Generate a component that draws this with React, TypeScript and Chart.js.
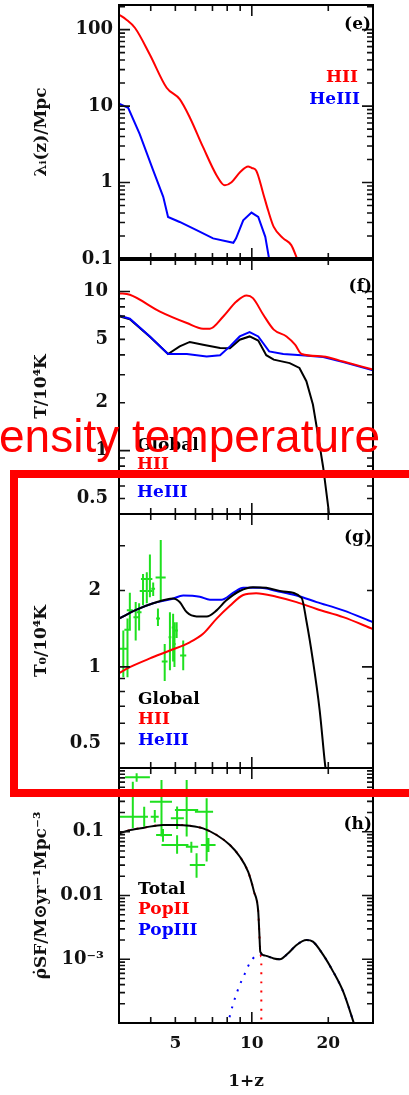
import React, { useEffect, useRef } from 'react';
import { Chart, registerables } from 'chart.js';

Chart.register(...registerables);

// ---------- shared x axis (1+z) ----------
const X_MIN = 3;
const X_MAX = 30;
const X_TICK_LABELS = [5, 10, 20];
const X_TICK_MARKS = [4, 5, 6, 7, 8, 9, 10, 20];

// ---------- panel (e): lambda_I(z)/Mpc ----------
const eZ_HII = [3.0, 3.2, 3.47, 3.97, 4.62, 5.2, 5.7, 6.43, 7.27, 7.83, 8.32, 9.0, 9.67, 10.0, 10.4, 11.1, 11.6, 12.2, 13.3, 14.3, 15.1];
const eHII = [157, 136, 105, 47, 17.4, 12.3, 7.1, 2.9, 1.24, 0.92, 1.01, 1.37, 1.62, 1.55, 1.44, 0.71, 0.43, 0.263, 0.186, 0.152, 0.1];
const eZ_HeIII = [3.0, 3.26, 3.62, 4.09, 4.48, 4.68, 5.2, 6.06, 7.04, 8.46, 8.67, 9.25, 9.97, 10.6, 11.3, 11.7];
const eHeIII = [10.8, 9.5, 4.3, 1.44, 0.65, 0.355, 0.305, 0.238, 0.186, 0.163, 0.186, 0.32, 0.405, 0.355, 0.195, 0.1];
const eTicks = [0.1, 1, 10, 100];

// ---------- panel (f): T/10^4 K ----------
const fZ_HII = [3.0, 3.31, 4.35, 5.55, 6.43, 6.84, 7.72, 8.7, 9.54, 10.1, 11.1, 12.2, 13.7, 14.8, 15.7, 19.1, 22.9, 30];
const fHII = [9.76, 9.53, 7.48, 6.34, 5.84, 5.84, 6.97, 8.65, 9.43, 9.08, 7.14, 5.76, 5.22, 4.63, 4.05, 3.91, 3.63, 3.23];
const fZ_HeIII = [3.0, 3.31, 3.97, 4.68, 5.55, 6.64, 7.5, 8.2, 8.96, 9.8, 10.6, 11.7, 13.3, 15.7, 19.1, 22.9, 30];
const fHeIII = [7.06, 6.74, 5.22, 4.05, 4.05, 3.91, 3.98, 4.52, 5.22, 5.56, 5.22, 4.2, 4.05, 3.98, 3.88, 3.6, 3.2];
const fZ_Glob = [3.0, 3.31, 3.97, 4.68, 5.2, 5.7, 6.43, 7.5, 8.2, 8.96, 9.8, 10.6, 11.4, 12.2, 14.1, 15.4, 16.4, 17.4, 18.2, 19.1, 20.0, 20.5];
const fGlob = [7.0, 6.7, 5.2, 4.05, 4.52, 4.82, 4.63, 4.42, 4.4, 4.98, 5.22, 4.92, 3.98, 3.73, 3.55, 3.31, 2.73, 1.95, 1.27, 0.784, 0.44, 0.3];
const fTicks = [0.5, 1, 2, 5, 10];

// ---------- panel (g): T0/10^4 K ----------
const gZ_HeIII = [3.0, 3.52, 4.09, 4.84, 5.37, 6.24, 6.84, 7.6, 8.46, 9.25, 10.8, 12.5, 15, 18, 22.9, 30];
const gHeIII = [1.55, 1.68, 1.78, 1.85, 1.91, 1.89, 1.84, 1.84, 1.96, 2.05, 2.05, 1.99, 1.91, 1.80, 1.67, 1.50];
const gZ_HII = [3.0, 3.31, 3.97, 4.76, 5.7, 6.43, 7.27, 8.2, 9.25, 10.4, 12.5, 15, 18, 22.9, 30];
const gHII = [0.946, 0.998, 1.08, 1.16, 1.25, 1.35, 1.55, 1.74, 1.92, 1.95, 1.89, 1.80, 1.69, 1.57, 1.41];
const gZ_Glob = [3.0, 3.52, 4.09, 4.9, 5.2, 5.55, 6.06, 6.64, 7.27, 7.9, 8.96, 10.1, 11.4, 13.3, 15.7, 16.4, 17.4, 18.5, 19.4, 19.8];
const gGlob = [1.55, 1.68, 1.78, 1.86, 1.80, 1.64, 1.58, 1.58, 1.67, 1.82, 1.99, 2.06, 2.05, 1.98, 1.87, 1.52, 1.06, 0.675, 0.418, 0.35];
const gObsZ = [3.12, 3.24, 3.31, 3.49, 3.60, 3.73, 3.86, 3.97, 4.09, 4.27, 4.38, 4.54, 4.76, 4.90, 4.96, 5.06, 5.37];
const gObsZlo = [3.02, 3.15, 3.22, 3.42, 3.53, 3.62, 3.66, 3.90, 4.02, 4.20, 4.18, 4.42, 4.70, 4.84, 4.90, 5.00, 5.22];
const gObsZhi = [3.22, 3.34, 3.40, 3.57, 3.68, 3.86, 4.06, 4.05, 4.16, 4.35, 4.58, 4.66, 4.82, 4.96, 5.02, 5.12, 5.52];
const gObsT = [1.18, 1.40, 1.67, 1.57, 1.64, 1.99, 2.22, 1.99, 2.03, 1.55, 2.25, 1.05, 1.31, 1.43, 1.23, 1.39, 1.11];
const gObsTlo = [0.91, 0.91, 1.39, 1.27, 1.39, 1.75, 1.78, 1.88, 1.90, 1.45, 1.80, 0.88, 0.97, 1.05, 1.00, 1.30, 0.97];
const gObsThi = [1.39, 1.55, 1.96, 1.80, 1.78, 2.32, 2.36, 2.77, 2.15, 1.70, 3.16, 1.23, 1.64, 1.62, 1.50, 1.50, 1.27];
const gTicks = [0.5, 1, 2];

// ---------- panel (h): star formation rate density ----------
const hZ_Tot = [3.0, 3.31, 3.77, 4.47, 5.08, 5.7, 6.43, 7.27, 8.2, 8.96, 9.67, 10.2, 10.6, 10.7, 10.8, 11.3, 12.2, 12.9, 13.9, 15.0, 16.4, 17.4, 19.1, 20.9, 22.9, 25.1, 25.4];
const hTot = [0.0945, 0.106, 0.116, 0.128, 0.128, 0.124, 0.113, 0.089, 0.062, 0.041, 0.0236, 0.0115, 0.0056, 0.0027, 0.00131, 0.00114, 0.00103, 0.001, 0.00124, 0.00167, 0.0020, 0.00189, 0.00117, 0.00064, 0.00031, 0.000105, 0.00009];
const hZ_PopII = [3.0, 3.31, 3.77, 4.47, 5.08, 5.7, 6.43, 7.27, 8.2, 8.96, 9.67, 10.2, 10.6, 10.7, 10.8, 10.9, 10.9];
const hPopII = [0.0945, 0.106, 0.116, 0.128, 0.128, 0.124, 0.113, 0.089, 0.062, 0.041, 0.0236, 0.0115, 0.0056, 0.0027, 0.0013, 0.0011, 0.00008];
const hZ_PopIII = [8.0, 8.46, 8.96, 9.4, 9.8, 10.4, 10.9, 11.3, 12.2, 12.9, 13.9, 15.0, 16.4, 17.4, 19.1, 20.9, 22.9, 25.1, 25.4];
const hPopIII = [0.00009, 0.000204, 0.000394, 0.0006, 0.00086, 0.00114, 0.00118, 0.00114, 0.00103, 0.001, 0.00124, 0.00167, 0.0020, 0.00189, 0.00117, 0.00064, 0.00031, 0.000105, 0.00009];
const hObsZ = [3.52, 3.40, 3.77, 4.15, 4.41, 4.47, 5.08, 5.54, 5.08, 5.78, 6.06, 6.64, 6.75];
const hObsZlo = [3.17, 3.0, 3.65, 4.0, 3.97, 4.2, 4.8, 4.98, 4.41, 5.5, 5.7, 5.97, 6.3];
const hObsZhi = [3.97, 3.9, 3.9, 4.3, 4.85, 4.85, 5.4, 6.15, 5.63, 6.15, 6.55, 7.04, 7.2];
const hObsR = [0.715, 0.172, 0.172, 0.172, 0.296, 0.089, 0.163, 0.219, 0.062, 0.058, 0.030, 0.206, 0.062];
const hObsRlo = [0.61, 0.114, 0.12, 0.14, 0.084, 0.07, 0.11, 0.084, 0.045, 0.047, 0.019, 0.034, 0.048];
const hObsRhi = [0.83, 0.61, 0.247, 0.22, 0.65, 0.11, 0.25, 0.65, 0.088, 0.07, 0.046, 0.335, 0.08];
const hTicks = [0.001, 0.01, 0.1];

// ---------- styling ----------
const RED = '#ff0000';
const BLUE = '#0000ff';
const BLACK = '#000000';
const GREEN = '#1fe01f';
const SERIF = '"DejaVu Serif", "Liberation Serif", serif';

type Series = { z: number[]; v: number[]; color: string; dash?: number[]; width?: number; smooth?: boolean };
type Label = { text: string; color: string; side: 'left' | 'right'; dx: number; dy: number };
type Obs = { z: number[]; zlo: number[]; zhi: number[]; v: number[]; vlo: number[]; vhi: number[] };
type Panel = {
  id: string; top: number; height: number; padTop: number; padBottom: number; xAxisH: number; showX: boolean;
  yMin: number; yMax: number; yTicks: number[]; yTickPad: number; yTitle: string; series: Series[]; labels: Label[];
  obs?: Obs; bottomBorder?: number;
};

const fmtY = (v: number) => (v === 0.001 ? '10\u207B\u00B3' : String(v));

const PANELS: Panel[] = [
  {
    id: 'e', top: -5, height: 274, padTop: 10, padBottom: 10, xAxisH: 0, showX: false,
    yMin: 0.1, yMax: 210, yTicks: eTicks, yTickPad: 6, yTitle: '\u03BB\u1D62(z)/Mpc', bottomBorder: 4,
    series: [
      { z: eZ_HII, v: eHII, color: RED, smooth: true },
      { z: eZ_HeIII, v: eHeIII, color: BLUE },
    ],
    labels: [
      { text: '(e)', color: BLACK, side: 'right', dx: 2, dy: 20 },
      { text: 'HII', color: RED, side: 'right', dx: 15, dy: 73 },
      { text: 'HeIII', color: BLUE, side: 'right', dx: 13, dy: 95 },
    ],
  },
  {
    id: 'f', top: 249, height: 275, padTop: 10, padBottom: 10, xAxisH: 0, showX: false,
    yMin: 0.4, yMax: 16, yTicks: fTicks, yTickPad: 11, yTitle: 'T/10\u2074K',
    series: [
      { z: fZ_HII, v: fHII, color: RED, smooth: true },
      { z: fZ_HeIII, v: fHeIII, color: BLUE },
      { z: fZ_Glob, v: fGlob, color: BLACK },
    ],
    labels: [
      { text: '(f)', color: BLACK, side: 'right', dx: 1, dy: 28 },
      { text: 'Global', color: BLACK, side: 'left', dx: 18, dy: 187 },
      { text: 'HII', color: RED, side: 'left', dx: 18, dy: 206 },
      { text: 'HeIII', color: BLUE, side: 'left', dx: 18, dy: 234 },
    ],
  },
  {
    id: 'g', top: 504, height: 274, padTop: 10, padBottom: 10, xAxisH: 0, showX: false,
    yMin: 0.4, yMax: 4, yTicks: gTicks, yTickPad: 18, yTitle: 'T\u2080/10\u2074K',
    series: [
      { z: gZ_Glob, v: gGlob, color: BLACK, smooth: true },
      { z: gZ_HII, v: gHII, color: RED, smooth: true },
      { z: gZ_HeIII, v: gHeIII, color: BLUE, smooth: true },
    ],
    obs: { z: gObsZ, zlo: gObsZlo, zhi: gObsZhi, v: gObsT, vlo: gObsTlo, vhi: gObsThi },
    labels: [
      { text: '(g)', color: BLACK, side: 'right', dx: 1, dy: 24 },
      { text: 'Global', color: BLACK, side: 'left', dx: 19, dy: 186 },
      { text: 'HII', color: RED, side: 'left', dx: 19, dy: 206 },
      { text: 'HeIII', color: BLUE, side: 'left', dx: 19, dy: 227 },
    ],
  },
  {
    id: 'h', top: 758, height: 337, padTop: 10, padBottom: 0, xAxisH: 72, showX: true,
    yMin: 0.0001, yMax: 1, yTicks: hTicks, yTickPad: 15, yTitle: '\u03C1\u0307SF/M\u2299yr\u207B\u00B9Mpc\u207B\u00B3',
    series: [
      { z: hZ_Tot, v: hTot, color: BLACK, smooth: true },
      { z: hZ_PopII, v: hPopII, color: RED, dash: [2, 7], smooth: true },
      { z: hZ_PopIII, v: hPopIII, color: BLUE, dash: [2, 7], smooth: true },
    ],
    obs: { z: hObsZ, zlo: hObsZlo, zhi: hObsZhi, v: hObsR, vlo: hObsRlo, vhi: hObsRhi },
    labels: [
      { text: '(h)', color: BLACK, side: 'right', dx: 1, dy: 57 },
      { text: 'Total', color: BLACK, side: 'left', dx: 19, dy: 122 },
      { text: 'PopII', color: RED, side: 'left', dx: 19, dy: 142 },
      { text: 'PopIII', color: BLUE, side: 'left', dx: 19, dy: 163 },
    ],
  },
];

function panelPlugin(p: Panel) {
  return {
    id: 'panel_' + p.id,
    beforeDatasetsDraw(chart: any) {
      if (!p.obs) return;
      const { ctx, chartArea: a } = chart;
      const xs = chart.scales.x;
      const ys = chart.scales.y;
      const o = p.obs;
      ctx.save();
      ctx.beginPath();
      ctx.rect(a.left, a.top, a.right - a.left, a.bottom - a.top);
      ctx.clip();
      ctx.strokeStyle = GREEN;
      ctx.lineWidth = 2;
      ctx.beginPath();
      o.z.forEach((z, i) => {
        const px = xs.getPixelForValue(z);
        const py = ys.getPixelForValue(o.v[i]);
        ctx.moveTo(xs.getPixelForValue(o.zlo[i]), py);
        ctx.lineTo(xs.getPixelForValue(o.zhi[i]), py);
        ctx.moveTo(px, ys.getPixelForValue(o.vlo[i]));
        ctx.lineTo(px, ys.getPixelForValue(o.vhi[i]));
      });
      ctx.stroke();
      ctx.restore();
    },
    afterDatasetsDraw(chart: any) {
      const { ctx, chartArea: a } = chart;
      const xs = chart.scales.x;
      const ys = chart.scales.y;
      ctx.save();
      ctx.strokeStyle = '#111';
      ctx.lineWidth = 1.6;
      ctx.beginPath();
      X_TICK_MARKS.forEach((v) => {
        const px = xs.getPixelForValue(v);
        const L = v === 10 ? 11 : 6;
        ctx.moveTo(px, a.top); ctx.lineTo(px, a.top + L);
        ctx.moveTo(px, a.bottom); ctx.lineTo(px, a.bottom - L);
      });
      const e0 = Math.floor(Math.log10(p.yMin));
      const e1 = Math.ceil(Math.log10(p.yMax));
      for (let e = e0; e <= e1; e++) {
        for (let m = 1; m <= 9; m++) {
          const v = m * Math.pow(10, e);
          if (v <= p.yMin * 1.001 || v >= p.yMax * 0.999) continue;
          const py = ys.getPixelForValue(v);
          const L = m === 1 ? 11 : 6;
          ctx.moveTo(a.left, py); ctx.lineTo(a.left + L, py);
          ctx.moveTo(a.right, py); ctx.lineTo(a.right - L, py);
        }
      }
      ctx.stroke();
      ctx.lineWidth = 2;
      ctx.strokeStyle = '#000';
      ctx.strokeRect(a.left, a.top, a.right - a.left, a.bottom - a.top);
      if (p.bottomBorder) {
        ctx.lineWidth = p.bottomBorder;
        ctx.beginPath();
        ctx.moveTo(a.left, a.bottom); ctx.lineTo(a.right, a.bottom);
        ctx.stroke();
      }
      ctx.font = 'bold 17px ' + SERIF;
      ctx.textBaseline = 'middle';
      p.labels.forEach((l) => {
        ctx.fillStyle = l.color;
        ctx.textAlign = l.side;
        const x = l.side === 'left' ? a.left + l.dx : a.right - l.dx;
        ctx.fillText(l.text, x, a.top + l.dy);
      });
      ctx.restore();
    },
  };
}

function makeChart(canvas: HTMLCanvasElement, p: Panel) {
  const datasets: any[] = p.series.map((s) => ({
    data: s.z.map((z, i) => ({ x: z, y: s.v[i] })),
    borderColor: s.color,
    backgroundColor: s.color,
    borderWidth: s.width ?? 2,
    borderDash: s.dash ?? [],
    pointRadius: 0,
    tension: s.smooth ? 0.4 : 0,
    cubicInterpolationMode: s.smooth ? 'monotone' : 'default',
    fill: false,
  }));
  if (p.obs) {
    const o = p.obs;
    datasets.push({
      data: o.z.map((z, i) => ({ x: z, y: o.v[i] })),
      showLine: false,
      pointRadius: 0,
      borderColor: GREEN,
      backgroundColor: GREEN,
    });
  }
  return new Chart(canvas, {
    type: 'line',
    data: { datasets },
    options: {
      animation: false,
      responsive: false,
      maintainAspectRatio: false,
      events: [],
      layout: { padding: { left: 0, right: 36, top: p.padTop, bottom: p.padBottom } },
      plugins: { legend: { display: false }, tooltip: { enabled: false }, title: { display: false } },
      scales: {
        x: {
          type: 'logarithmic',
          min: X_MIN,
          max: X_MAX,
          position: 'bottom',
          grid: { display: false, drawTicks: false },
          border: { display: false },
          afterBuildTicks: (s: any) => { s.ticks = X_TICK_LABELS.map((v) => ({ value: v })); },
          afterFit: (s: any) => { s.height = p.xAxisH; s.paddingLeft = 0; s.paddingRight = 0; },
          ticks: {
            display: p.showX,
            autoSkip: false,
            maxRotation: 0,
            padding: 10,
            color: '#111',
            font: { family: SERIF, weight: 'bold', size: 17 },
            callback: (v: any) => String(v),
          },
          title: {
            display: p.showX,
            text: '1+z',
            color: '#111',
            font: { family: SERIF, weight: 'bold', size: 17 },
            padding: { top: 0, bottom: 3 },
          },
        },
        y: {
          type: 'logarithmic',
          min: p.yMin,
          max: p.yMax,
          position: 'left',
          grid: { display: false, drawTicks: false },
          border: { display: false },
          afterBuildTicks: (s: any) => { s.ticks = p.yTicks.map((v) => ({ value: v })); },
          afterFit: (s: any) => { s.width = 119; s.paddingTop = 0; s.paddingBottom = 0; },
          ticks: {
            autoSkip: false,
            padding: p.yTickPad,
            color: '#111',
            font: { family: SERIF, weight: 'bold', size: 18 },
            callback: (v: any) => fmtY(Number(v)),
          },
          title: {
            display: true,
            text: p.yTitle,
            color: '#111',
            font: { family: SERIF, weight: 'bold', size: 17 },
            padding: { top: 31, bottom: 0 },
          },
        },
      },
    } as any,
    plugins: [panelPlugin(p)],
  });
}

export default function App() {
  const refs = useRef<(HTMLCanvasElement | null)[]>([]);

  useEffect(() => {
    const charts = PANELS.map((p, i) => makeChart(refs.current[i] as HTMLCanvasElement, p));
    return () => charts.forEach((c) => c.destroy());
  }, []);

  return (
    <div style={{ position: 'absolute', left: 0, top: 0, width: 409, height: 1095, overflow: 'hidden', background: '#fff' }}>
      {PANELS.map((p, i) => (
        <canvas
          key={p.id}
          ref={(el) => { refs.current[i] = el; }}
          width={409}
          height={p.height}
          style={{ position: 'absolute', left: 0, top: p.top, width: 409, height: p.height }}
        />
      ))}
      <div
        style={{
          position: 'absolute', left: -1, top: 413, fontFamily: '"Liberation Sans", Arial, sans-serif',
          fontSize: 46, lineHeight: '46px', color: '#ff0000', whiteSpace: 'nowrap', zIndex: 5,
        }}
      >
        ensity temperature
      </div>
      <div
        style={{
          position: 'absolute', left: 10, top: 470, width: 420, height: 327, boxSizing: 'border-box',
          border: '8px solid #ff0000', zIndex: 6,
        }}
      />
    </div>
  );
}
